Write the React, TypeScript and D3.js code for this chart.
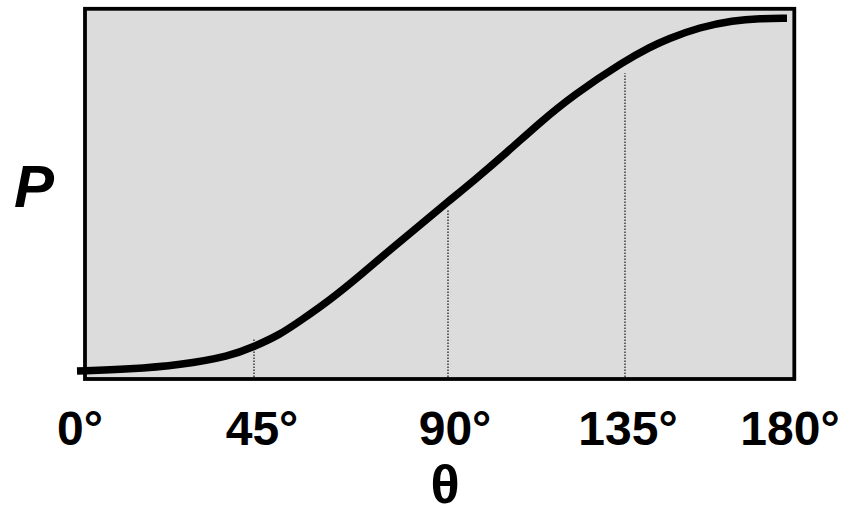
import React from "react";
import * as d3 from "d3";

// angle θ in degrees
const theta = [0, 13.5, 26.2, 38.9, 45, 51, 55.7, 62.6, 69.6, 76.5, 83.5, 90, 96.4, 105, 113.4, 121.8, 135, 141.9, 146.7, 155.8, 165, 172.5, 180];
// probability P (0..1)
const prob = [0, 0.005, 0.017, 0.042, 0.069, 0.103, 0.142, 0.201, 0.271, 0.343, 0.414, 0.48, 0.538, 0.62, 0.705, 0.782, 0.88, 0.918, 0.941, 0.975, 0.994, 0.9995, 1.0];

const tickValues = [0, 45, 90, 135, 180];
const tickLabels = ["0°", "45°", "90°", "135°", "180°"];
const dropAngles = [45, 90, 135];
const dropHeights = [0.09, 0.459, 0.844];

const W = 841;
const H = 516;

export default function App() {
  const x = d3.scaleLinear().domain(tickValues).range([77, 254, 448, 625, 787]);
  const labelX = d3.scaleLinear().domain(tickValues).range([80, 262, 455, 628, 790]);
  const y = d3.scaleLinear().domain([0, 1]).range([371, 18.3]);

  const pts: [number, number][] = theta.map((t, i) => [t, prob[i]]);
  const line = d3
    .line<[number, number]>()
    .x((d) => x(d[0]))
    .y((d) => y(d[1]))
    .curve(d3.curveBasis);

  const frame = { x0: 85, x1: 794.3, y0: 8.8, y1: 379 };

  return (
    <svg
      width={W}
      height={H}
      style={{ position: "absolute", left: 0, top: 0, background: "#fff" }}
      fontFamily="'Liberation Sans', Arial, sans-serif"
    >
      <rect
        x={frame.x0}
        y={frame.y0}
        width={frame.x1 - frame.x0}
        height={frame.y1 - frame.y0}
        fill="#dcdcdc"
        stroke="#000"
        strokeWidth={3.8}
      />
      {dropAngles.map((a, i) => (
        <line
          key={a}
          x1={x(a)}
          x2={x(a)}
          y1={frame.y1 - 2}
          y2={y(dropHeights[i])}
          stroke="#222"
          strokeWidth={1.3}
          strokeDasharray="1.5,1.5"
        />
      ))}
      <path d={line(pts) || ""} fill="none" stroke="#000" strokeWidth={7.5} strokeLinecap="butt" />
      {tickValues.map((t, i) => (
        <text
          key={t}
          x={labelX(t)}
          y={445}
          textAnchor="middle"
          fontSize={48}
          fontWeight="bold"
          fill="#000"
        >
          {tickLabels[i]}
        </text>
      ))}
      <text x={445} y={503} textAnchor="middle" fontSize={54} fontWeight="bold" fill="#000">
        θ
      </text>
      <text x={34} y={207} textAnchor="middle" fontSize={60} fontWeight="bold" fontStyle="italic" fill="#000">
        P
      </text>
    </svg>
  );
}
